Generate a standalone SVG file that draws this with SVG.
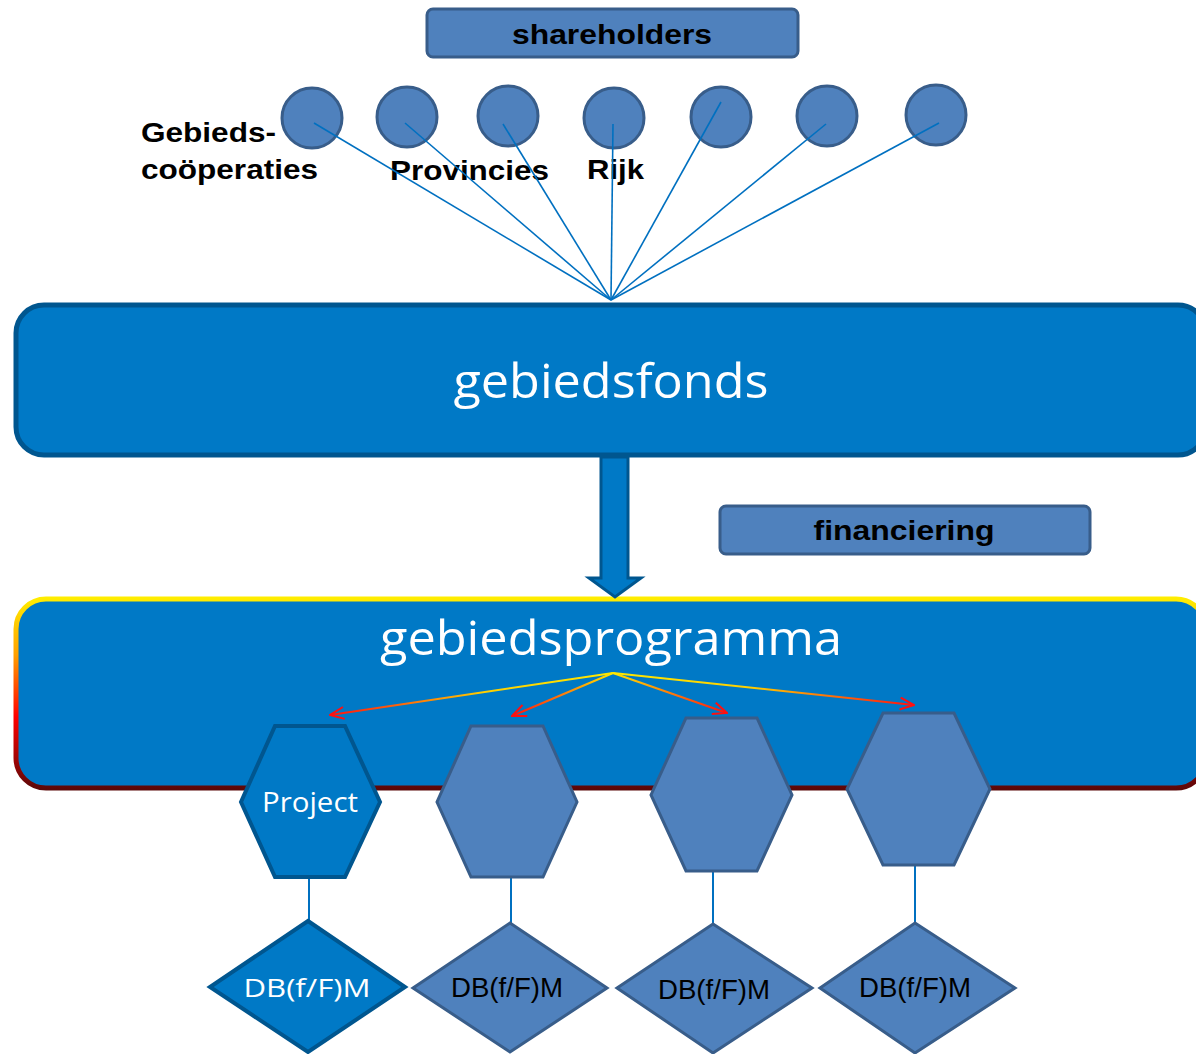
<svg xmlns="http://www.w3.org/2000/svg" width="1196" height="1054" viewBox="0 0 1196 1054">
<defs>
<style>
.lbl{font-family:"Liberation Sans",Arial,sans-serif;font-weight:bold;font-size:28px;fill:#000}
.big{font-family:"Open Sans","Noto Sans",sans-serif;font-size:48px;fill:#fff;text-anchor:middle}
.sh{fill:#4F81BD;stroke:#385D8A;stroke-width:3}
.dk{fill:#0079C6;stroke:#00568F;stroke-width:4}
.conn{stroke:#0070C0;stroke-width:1.6;fill:none}
.vl{stroke:#0070C0;stroke-width:2;fill:none}
.dbw{font-family:"Open Sans","Noto Sans",sans-serif;font-size:26px;fill:#fff;text-anchor:middle}
.dbb{font-family:"Liberation Sans",Arial,sans-serif;font-size:27px;fill:#000;text-anchor:middle}
</style>
<linearGradient id="progStroke" gradientUnits="userSpaceOnUse" x1="0" y1="597" x2="0" y2="790">
<stop offset="0" stop-color="#FFEE00"/>
<stop offset="0.3" stop-color="#FFA000"/>
<stop offset="0.62" stop-color="#FF0000"/>
<stop offset="1" stop-color="#5A0808"/>
</linearGradient>
<linearGradient id="ag1" gradientUnits="userSpaceOnUse" x1="613" y1="673" x2="330" y2="715"><stop offset="0" stop-color="#FFE800"/><stop offset="0.45" stop-color="#FFD000"/><stop offset="1" stop-color="#FF1010"/></linearGradient>
<linearGradient id="ag2" gradientUnits="userSpaceOnUse" x1="613" y1="673" x2="512" y2="716"><stop offset="0" stop-color="#FFE800"/><stop offset="1" stop-color="#FF1010"/></linearGradient>
<linearGradient id="ag3" gradientUnits="userSpaceOnUse" x1="613" y1="673" x2="727" y2="713"><stop offset="0" stop-color="#FFE800"/><stop offset="1" stop-color="#FF1010"/></linearGradient>
<linearGradient id="ag4" gradientUnits="userSpaceOnUse" x1="613" y1="673" x2="914" y2="705"><stop offset="0" stop-color="#FFE800"/><stop offset="0.45" stop-color="#FFD000"/><stop offset="1" stop-color="#FF1010"/></linearGradient>
<marker id="chev" viewBox="0 0 16 14" refX="15" refY="7" markerWidth="16" markerHeight="14" markerUnits="userSpaceOnUse" orient="auto">
<path d="M1,1 L15,7 L1,13" fill="none" stroke="#FF1010" stroke-width="2"/>
</marker>
</defs>
<rect width="1196" height="1054" fill="#fff"/>

<g id="shareholders">
<rect class="sh" x="427" y="9" width="371" height="48" rx="6"/>
<text class="lbl" x="612" y="44" text-anchor="middle" textLength="200" lengthAdjust="spacingAndGlyphs">shareholders</text>
</g>

<g id="circle1"><circle class="sh" cx="312" cy="118" r="30"/></g>
<g id="circle2"><circle class="sh" cx="407" cy="117" r="30"/></g>
<g id="circle3"><circle class="sh" cx="508" cy="116" r="30"/></g>
<g id="circle4"><circle class="sh" cx="614" cy="118" r="30"/></g>
<g id="circle5"><circle class="sh" cx="721" cy="117" r="30"/></g>
<g id="circle6"><circle class="sh" cx="827" cy="116" r="30"/></g>
<g id="circle7"><circle class="sh" cx="936" cy="115" r="30"/></g>

<g id="labels">
<text class="lbl" x="141" y="142" textLength="135" lengthAdjust="spacingAndGlyphs">Gebieds-</text>
<text class="lbl" x="141" y="179" textLength="177" lengthAdjust="spacingAndGlyphs">coöperaties</text>
<text class="lbl" x="390" y="180" textLength="159" lengthAdjust="spacingAndGlyphs">Provincies</text>
<text class="lbl" x="587" y="179" textLength="57" lengthAdjust="spacingAndGlyphs">Rijk</text>
</g>

<g id="gebiedsfonds">
<rect x="16" y="305" width="1190" height="150" rx="28" fill="#0079C6" stroke="#00568F" stroke-width="5"/>
<text class="big" x="611" y="398" textLength="315" lengthAdjust="spacingAndGlyphs">gebiedsfonds</text>
</g>

<g id="gebiedsprogramma">
<rect x="16" y="599" width="1190" height="189" rx="30" fill="#0079C6" stroke="url(#progStroke)" stroke-width="5"/>
<text class="big" x="611" y="655" textLength="462" lengthAdjust="spacingAndGlyphs">gebiedsprogramma</text>
</g>

<g id="flow-arrow">
<polygon points="601,457 628,457 628,578 641,578 615,597 589,578 601,578" fill="#0079C6" stroke="#00568F" stroke-width="3"/>
</g>

<g id="financiering">
<rect class="sh" x="720" y="506" width="370" height="48" rx="6"/>
<text class="lbl" x="904" y="540" text-anchor="middle" textLength="181" lengthAdjust="spacingAndGlyphs">financiering</text>
</g>

<g id="connectors">
<line class="conn" x1="314" y1="123" x2="611" y2="300"/>
<line class="conn" x1="405" y1="123" x2="611" y2="300"/>
<line class="conn" x1="503" y1="124" x2="611" y2="300"/>
<line class="conn" x1="613" y1="124" x2="611" y2="300"/>
<line class="conn" x1="721" y1="102" x2="611" y2="300"/>
<line class="conn" x1="826" y1="124" x2="611" y2="300"/>
<line class="conn" x1="939" y1="123" x2="611" y2="300"/>
<line class="vl" x1="309" y1="877" x2="309" y2="921"/>
<line class="vl" x1="511" y1="877" x2="511" y2="923"/>
<line class="vl" x1="713" y1="871" x2="713" y2="924"/>
<line class="vl" x1="915" y1="865" x2="915" y2="923"/>
<line x1="613" y1="673" x2="330" y2="715" stroke="url(#ag1)" stroke-width="2" marker-end="url(#chev)"/>
<line x1="613" y1="673" x2="512" y2="716" stroke="url(#ag2)" stroke-width="2" marker-end="url(#chev)"/>
<line x1="613" y1="673" x2="727" y2="713" stroke="url(#ag3)" stroke-width="2" marker-end="url(#chev)"/>
<line x1="613" y1="673" x2="914" y2="705" stroke="url(#ag4)" stroke-width="2" marker-end="url(#chev)"/>
</g>

<g id="hex1">
<polygon class="dk" points="275,726 345,726 380,802 345,877 275,877 241,802"/>
<text x="310" y="812" font-family="Open Sans, Noto Sans, sans-serif" font-size="28" fill="#fff" text-anchor="middle" textLength="96" lengthAdjust="spacingAndGlyphs">Project</text>
</g>
<g id="hex2"><polygon class="sh" points="471,726 543,726 577,802 543,877 471,877 437,802"/></g>
<g id="hex3"><polygon class="sh" points="686,718 757,718 792,795 757,871 686,871 651,795"/></g>
<g id="hex4"><polygon class="sh" points="883,713 954,713 990,789 954,865 883,865 847,789"/></g>

<g id="diamond1">
<polygon class="dk" points="308,921 405,987 308,1052 210,987"/>
<text class="dbw" x="307" y="997" textLength="127" lengthAdjust="spacingAndGlyphs">DB(f/F)M</text>
</g>
<g id="diamond2">
<polygon class="sh" points="510,923 607,988 510,1052 413,988"/>
<text class="dbb" x="507" y="997" textLength="112" lengthAdjust="spacingAndGlyphs">DB(f/F)M</text>
</g>
<g id="diamond3">
<polygon class="sh" points="713,924 812,988 713,1053 617,988"/>
<text class="dbb" x="714" y="999" textLength="112" lengthAdjust="spacingAndGlyphs">DB(f/F)M</text>
</g>
<g id="diamond4">
<polygon class="sh" points="915,923 1015,988 915,1053 820,988"/>
<text class="dbb" x="915" y="997" textLength="112" lengthAdjust="spacingAndGlyphs">DB(f/F)M</text>
</g>
</svg>
